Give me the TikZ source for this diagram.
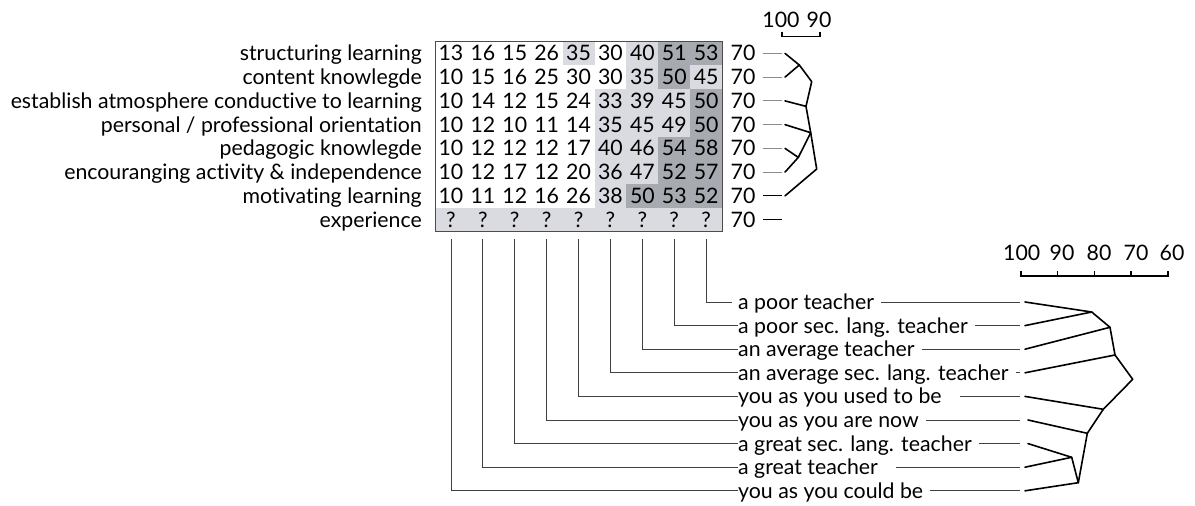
\documentclass[tikz,border=0pt]{standalone}
\usepackage{fontspec}
\setmainfont{Lato}[Ligatures=CommonOff]
\definecolor{shade0}{RGB}{255,255,255}
\definecolor{shade1}{RGB}{217,219,225}
\definecolor{shade2}{RGB}{168,170,177}
\begin{document}
\begin{tikzpicture}[x=1pt,y=-1pt,
  font=\fontsize{21.3}{25}\selectfont,
  lab/.style={inner sep=0pt, text height=15pt, text depth=0pt, anchor=east},
  blab/.style={inner sep=0pt, text height=15pt, text depth=0pt, anchor=west},
  num/.style={inner sep=0pt, text height=15pt, text depth=0pt},
  dend/.style={line width=1.6pt, black, line cap=round, line join=round},
  conn/.style={line width=0.9pt, black!75},
  thinl/.style={line width=0.9pt, black!45}]
\useasboundingbox (0,0) rectangle (1195,506);
% ---------- grid ----------
\foreach \r/\vals in {
 1/{13/0,16/0,15/0,26/0,35/1,30/0,40/1,51/2,53/2},
 2/{10/0,15/0,16/0,25/0,30/0,30/0,35/1,50/2,45/1},
 3/{10/0,14/0,12/0,15/0,24/0,33/1,39/1,45/1,50/2},
 4/{10/0,12/0,10/0,11/0,14/0,35/1,45/1,49/1,50/2},
 5/{10/0,12/0,12/0,12/0,17/0,40/1,46/1,54/2,58/2},
 6/{10/0,12/0,17/0,12/0,20/0,36/1,47/1,52/2,57/2},
 7/{10/0,11/0,12/0,16/0,26/0,38/1,50/2,53/2,52/2},
 8/{?/1,?/1,?/1,?/1,?/1,?/1,?/1,?/1,?/1}}{
  \foreach \v/\s [count=\c] in \vals {
    \fill[shade\s] ({435+31.9*(\c-1)},{41.5+23.75*(\r-1)}) rectangle ++(31.9,23.75);
    \node[num] (c-\r-\c) at ({435+31.9*(\c-0.5)},{41.5+23.75*(\r-0.5)}) {\v};
  }
}
\draw[black!70, line width=0.9pt] (435,41.5) rectangle (722,231.5);
% ---------- left labels ----------
\foreach \t [count=\r] in {structuring learning, content knowlegde,
  establish atmosphere conductive to learning, personal / professional orientation,
  pedagogic knowlegde, encouranging activity \& independence, motivating learning, experience}{
  \node[lab] (L\r) at (422,{41.5+23.75*(\r-0.5)}) {\t};
  \node[num] (s\r) at (743,{41.5+23.75*(\r-0.5)}) {70};
  \coordinate (te\r) at (782,{41.5+23.75*(\r-0.5)});
  \coordinate (tl\r) at (785,{41.5+23.75*(\r-0.5)});
}
\foreach \r in {1,...,6} \draw[thinl] ([xshift=7pt]s\r.east) -- (te\r);
\foreach \r in {7,8} \draw[conn,black] ([xshift=7pt]s\r.east) -- (te\r);
% ---------- top dendrogram ----------
\coordinate (J1) at (799.3,{52.9+23.75*0.51});
\coordinate (J2) at (811.7,{52.9+23.75*1.21});
\coordinate (J3) at (806.0,{52.9+23.75*2.25});
\coordinate (J4) at (810.7,{52.9+23.75*3.36});
\coordinate (J5) at (798.3,{52.9+23.75*4.40});
\coordinate (J6) at (816.7,{52.9+23.75*4.89});
\draw[dend] (tl1) -- (J1) -- (tl2);
\draw[dend] (J1) -- (J2) -- (J3) -- (tl3);
\draw[dend] (tl5) -- (J5) -- (tl6);
\draw[dend] (J5) -- (J4) -- (tl4);
\draw[dend] (J3) -- (J4) -- (J6) -- (tl7);
% top scale
\coordinate (ta) at (782,31.7);
\coordinate (tb) at (820,31.7);
\coordinate (tc) at (782,36.7);
\coordinate (td) at (820,36.7);
\node[num] (t100) at (781,20) {100};
\node[num] (t90) at (819,20) {90};
\draw[line width=1.5pt] (ta) -- (tc) -- (td) -- (tb);
% ---------- bottom labels ----------
\foreach \t [count=\i from 0] in {a poor teacher, a poor sec. lang. teacher,
  an average teacher, an average sec. lang. teacher, you as you used to be,
  you as you are now, a great sec. lang. teacher, a great teacher, you as you could be}{
  \node[blab] (B\i) at (738,{302+23.6*\i}) {\t};
  \coordinate (bl\i) at (1020,{302+23.6*\i});
  \coordinate (dl\i) at (1025,{302+23.6*\i});
}
\foreach \c in {1,...,9} \coordinate (v\c) at ({435+31.9*(\c-0.5)},239);
\draw[conn] (v9) |- ([xshift=-6pt]B0.west);
\foreach \c/\i in {8/1,7/2,6/3,5/4,4/5,3/6,2/7,1/8} \draw[conn] (v\c) |- (B\i.west);
\foreach \i in {0,1,2,3,5,6,8} \draw[conn] ([xshift=7pt]B\i.east) -- (bl\i);
\foreach \i in {4,7} \draw[conn] ([xshift=18pt]B\i.east) -- (bl\i);
% ---------- bottom dendrogram ----------
\coordinate (K1) at (1091.7,312);
\coordinate (K2) at (1110,327.3);
\coordinate (K3) at (1115,355);
\coordinate (K4) at (1132.7,379.3);
\coordinate (K5) at (1103.3,409.3);
\coordinate (K6) at (1087.3,433.3);
\coordinate (K7) at (1071.7,457.3);
\coordinate (K8) at (1078.3,482.7);
\draw[dend] (dl0) -- (K1) -- (dl1);
\draw[dend] (K1) -- (K2) -- (dl2);
\draw[dend] (K2) -- (K3) -- (dl3);
\draw[dend] (K3) -- (K4) -- (K5) -- (dl4);
\draw[dend] (K5) -- (K6) -- ([xshift=3pt]dl5);
\draw[dend] ([xshift=3pt]dl6) -- (K7) -- (dl7);
\draw[dend] (K7) -- (K8) -- (dl8);
\draw[dend] (K8) -- (K6);
% bottom scale
\foreach \v/\lx [count=\k from 0] in {100/1021.7,90/1062,80/1099,70/1136,60/1172}{
  \coordinate (bt\k) at ({1021+36.7*\k},270.7);
  \coordinate (bb\k) at ({1021+36.7*\k},276);
  \node[num] (bs\k) at (\lx,253.3) {\v};
}
\draw[line width=1.5pt] (bt0) -- (bb0) -- (bb4) -- (bt4);
\foreach \k in {1,2,3} \draw[line width=1.5pt] (bt\k) -- (bb\k);
\end{tikzpicture}
\end{document}
